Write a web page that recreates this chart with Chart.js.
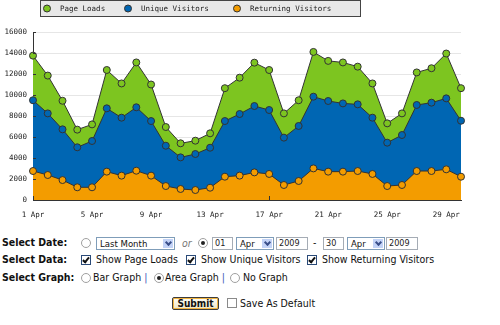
<!DOCTYPE html>
<html>
<head>
<meta charset="utf-8">
<script src="https://cdn.jsdelivr.net/npm/chart.js@4.4.1/dist/chart.umd.min.js"></script>
<style>
  body { margin: 0; background: #fff; font-family: "DejaVu Sans Condensed", "DejaVu Sans", sans-serif; }
  #chartBox { position: absolute; left: 0; top: 0; width: 500px; height: 220px; }
  .t { position: absolute; font-size: 10.5px; line-height: 13px; color: #111; white-space: nowrap; }
  .b { font-weight: bold; }
  .or { color: #777; font-style: italic; }
  .pipe { color: #3b55b5; }
  .radio { position: absolute; width: 8px; height: 8px; border: 1px solid #a0a0a0; border-radius: 50%; background: #fff; }
  .radio.on::after { content: ''; position: absolute; left: 2px; top: 2px; width: 4px; height: 4px; border-radius: 50%; background: #222; }
  .cb { position: absolute; width: 8px; height: 8px; border: 1px solid #2a4a78; background: #fff; }
  .cb.on::after { content: ''; position: absolute; left: 2px; top: 0px; width: 2px; height: 5px; border: solid #111; border-width: 0 2px 2px 0; transform: rotate(40deg); }
  .sel { position: absolute; height: 11px; border: 1px solid #7f9db9; background: #fff; font-size: 9.5px; line-height: 11px; padding-left: 3px; box-sizing: content-box; color: #111; }
  .sel .arr { position: absolute; right: 1px; top: 1px; width: 10px; height: 9px; background: #c3d3f7; }
  .sel .arr::after { content: ''; position: absolute; left: 3px; top: 1px; width: 3px; height: 3px; border: solid #3a4f8a; border-width: 0 2px 2px 0; transform: rotate(45deg); }
  .inp { position: absolute; height: 11px; border: 1px solid #a5acb5; background: #fff; font-size: 9px; line-height: 11px; padding-left: 2px; color: #222; }
  .btn { position: absolute; left: 172px; top: 297px; width: 45px; height: 11px; border: 1px solid #3c3c3c; box-shadow: inset 0 0 0 1px #f3b540; background: linear-gradient(#fffef6, #efe6c6); font-size: 10px; line-height: 11px; font-weight: bold; text-align: center; color: #111; border-radius: 2px; }
</style>
</head>
<body>
<div id="chartBox"><canvas id="visits" width="500" height="220"></canvas></div>

<div class="t b" style="left:2px;top:236px">Select Date:</div>
<div class="radio" style="left:81px;top:238px"></div>
<div class="sel" style="left:96px;top:237px;width:74px">Last Month<span class="arr"></span></div>
<div class="t or" style="left:182px;top:237px">or</div>
<div class="radio on" style="left:198px;top:238px"></div>
<div class="inp" style="left:212px;top:237px;width:17px">01</div>
<div class="sel" style="left:236px;top:237px;width:33px">Apr<span class="arr"></span></div>
<div class="inp" style="left:276px;top:237px;width:28px">2009</div>
<div class="t" style="left:313px;top:236px">-</div>
<div class="inp" style="left:323px;top:237px;width:17px">30</div>
<div class="sel" style="left:347px;top:237px;width:33px">Apr<span class="arr"></span></div>
<div class="inp" style="left:386px;top:237px;width:28px">2009</div>

<div class="t b" style="left:2px;top:253px">Select Data:</div>
<div class="cb on" style="left:81px;top:255px"></div>
<div class="t" style="left:96px;top:253px">Show Page Loads</div>
<div class="cb on" style="left:186px;top:255px"></div>
<div class="t" style="left:201px;top:253px">Show Unique Visitors</div>
<div class="cb on" style="left:307px;top:255px"></div>
<div class="t" style="left:322px;top:253px">Show Returning Visitors</div>

<div class="t b" style="left:2px;top:271px">Select Graph:</div>
<div class="radio" style="left:81px;top:273px"></div>
<div class="t" style="left:93px;top:271px">Bar Graph <span class="pipe">|</span></div>
<div class="radio on" style="left:154px;top:273px"></div>
<div class="t" style="left:165px;top:271px">Area Graph <span class="pipe">|</span></div>
<div class="radio" style="left:230px;top:273px"></div>
<div class="t" style="left:243px;top:271px">No Graph</div>

<div class="btn">Submit</div>
<div class="cb" style="left:227px;top:298px;border-color:#8a8a8a"></div>
<div class="t" style="left:240px;top:297px">Save As Default</div>

<script>
const days = ['1 Apr', '2 Apr', '3 Apr', '4 Apr', '5 Apr', '6 Apr', '7 Apr', '8 Apr', '9 Apr', '10 Apr',
  '11 Apr', '12 Apr', '13 Apr', '14 Apr', '15 Apr', '16 Apr', '17 Apr', '18 Apr', '19 Apr', '20 Apr',
  '21 Apr', '22 Apr', '23 Apr', '24 Apr', '25 Apr', '26 Apr', '27 Apr', '28 Apr', '29 Apr', '30 Apr'];

const pageLoads = [13750, 11850, 9450, 6700, 7200, 12380, 11100, 13100, 11000, 6950,
  5400, 5650, 6350, 10650, 11650, 13080, 12380, 8250, 9500, 14100,
  13250, 13100, 12700, 11100, 7300, 8250, 12150, 12550, 13950, 10650];

const uniqueVisitors = [9500, 8250, 6730, 5020, 5620, 8730, 7840, 8830, 7520, 5170,
  4060, 4380, 4980, 7520, 8190, 8950, 8570, 5940, 7050, 9840,
  9430, 9200, 9110, 7840, 5460, 6190, 9050, 9270, 9680, 7550];

const returningVisitors = [2760, 2380, 1900, 1210, 1210, 2700, 2320, 2790, 2320, 1330,
  1050, 950, 1170, 2220, 2320, 2630, 2480, 1430, 1810, 3010,
  2700, 2700, 2760, 2480, 1330, 1430, 2760, 2760, 2920, 2220];

const green = '#7dc520';
const blue = '#0066b3';
const orange = '#f39c00';
const outline = '#333333';
const monoFont = { family: 'DejaVu Sans Mono', size: 7.5 };

// legend box across the top, drawn by hand to match the old graph look
const legendX = [47, 128, 237];
const legendBox = {
  id: 'legendBox',
  afterDraw(chart) {
    const c = chart.ctx;
    c.save();
    c.fillStyle = '#e8e8e8';
    c.strokeStyle = '#444';
    c.lineWidth = 1;
    c.fillRect(40.5, 0.5, 320, 16);
    c.strokeRect(40.5, 0.5, 320, 16);
    chart.data.datasets.forEach((ds, i) => {
      c.beginPath();
      c.arc(legendX[i], 8.5, 3.5, 0, Math.PI * 2);
      c.fillStyle = ds.backgroundColor;
      c.fill();
      c.strokeStyle = outline;
      c.stroke();
      c.fillStyle = '#222';
      c.font = '7.5px "DejaVu Sans Mono"';
      c.textBaseline = 'middle';
      c.fillText(ds.label, legendX[i] + 13, 9);
    });
    c.restore();
  }
};

// short inward tick marks on both axes
const innerTicks = {
  id: 'innerTicks',
  afterDraw(chart) {
    const c = chart.ctx, x = chart.scales.x, y = chart.scales.y;
    c.save();
    c.strokeStyle = outline;
    c.lineWidth = 1;
    c.beginPath();
    x.ticks.forEach((t, i) => {
      if (i % 4 !== 0) return;
      const px = Math.round(x.getPixelForTick(i)) + 0.5;
      c.moveTo(px, y.bottom);
      c.lineTo(px, y.bottom - 4);
    });
    y.ticks.forEach((t, i) => {
      const py = Math.round(y.getPixelForTick(i)) + 0.5;
      c.moveTo(x.left, py);
      c.lineTo(x.left + 3, py);
    });
    c.stroke();
    c.restore();
  }
};

new Chart(document.getElementById('visits'), {
  type: 'line',
  data: {
    labels: days,
    datasets: [
      { label: 'Page Loads', data: pageLoads, backgroundColor: green, pointBackgroundColor: green, order: 3 },
      { label: 'Unique Visitors', data: uniqueVisitors, backgroundColor: blue, pointBackgroundColor: blue, order: 2 },
      { label: 'Returning Visitors', data: returningVisitors, backgroundColor: orange, pointBackgroundColor: orange, order: 1 }
    ]
  },
  options: {
    responsive: false,
    animation: false,
    layout: { padding: { left: 0, right: 39, top: 32, bottom: 0 } },
    datasets: { line: { fill: 'origin', clip: false, borderColor: outline, borderWidth: 1, tension: 0 } },
    elements: { point: { radius: 3.5, borderWidth: 1, borderColor: outline } },
    plugins: { legend: { display: false }, tooltip: { enabled: false } },
    scales: {
      x: {
        grid: { display: false },
        border: { color: outline },
        ticks: {
          autoSkip: false, maxRotation: 0, font: monoFont, color: '#222', padding: 3,
          callback: (v, i) => (i % 4 === 0 ? days[i] : null)
        },
        afterFit: s => { s.height = 20; }
      },
      y: {
        min: 0, max: 16000,
        grid: { color: '#e6e6e6', drawTicks: false },
        border: { color: outline },
        ticks: { stepSize: 2000, font: monoFont, color: '#222', padding: 6, callback: v => String(v) },
        afterFit: s => { s.width = 33; }
      }
    }
  },
  plugins: [legendBox, innerTicks]
});
</script>
</body>
</html>
